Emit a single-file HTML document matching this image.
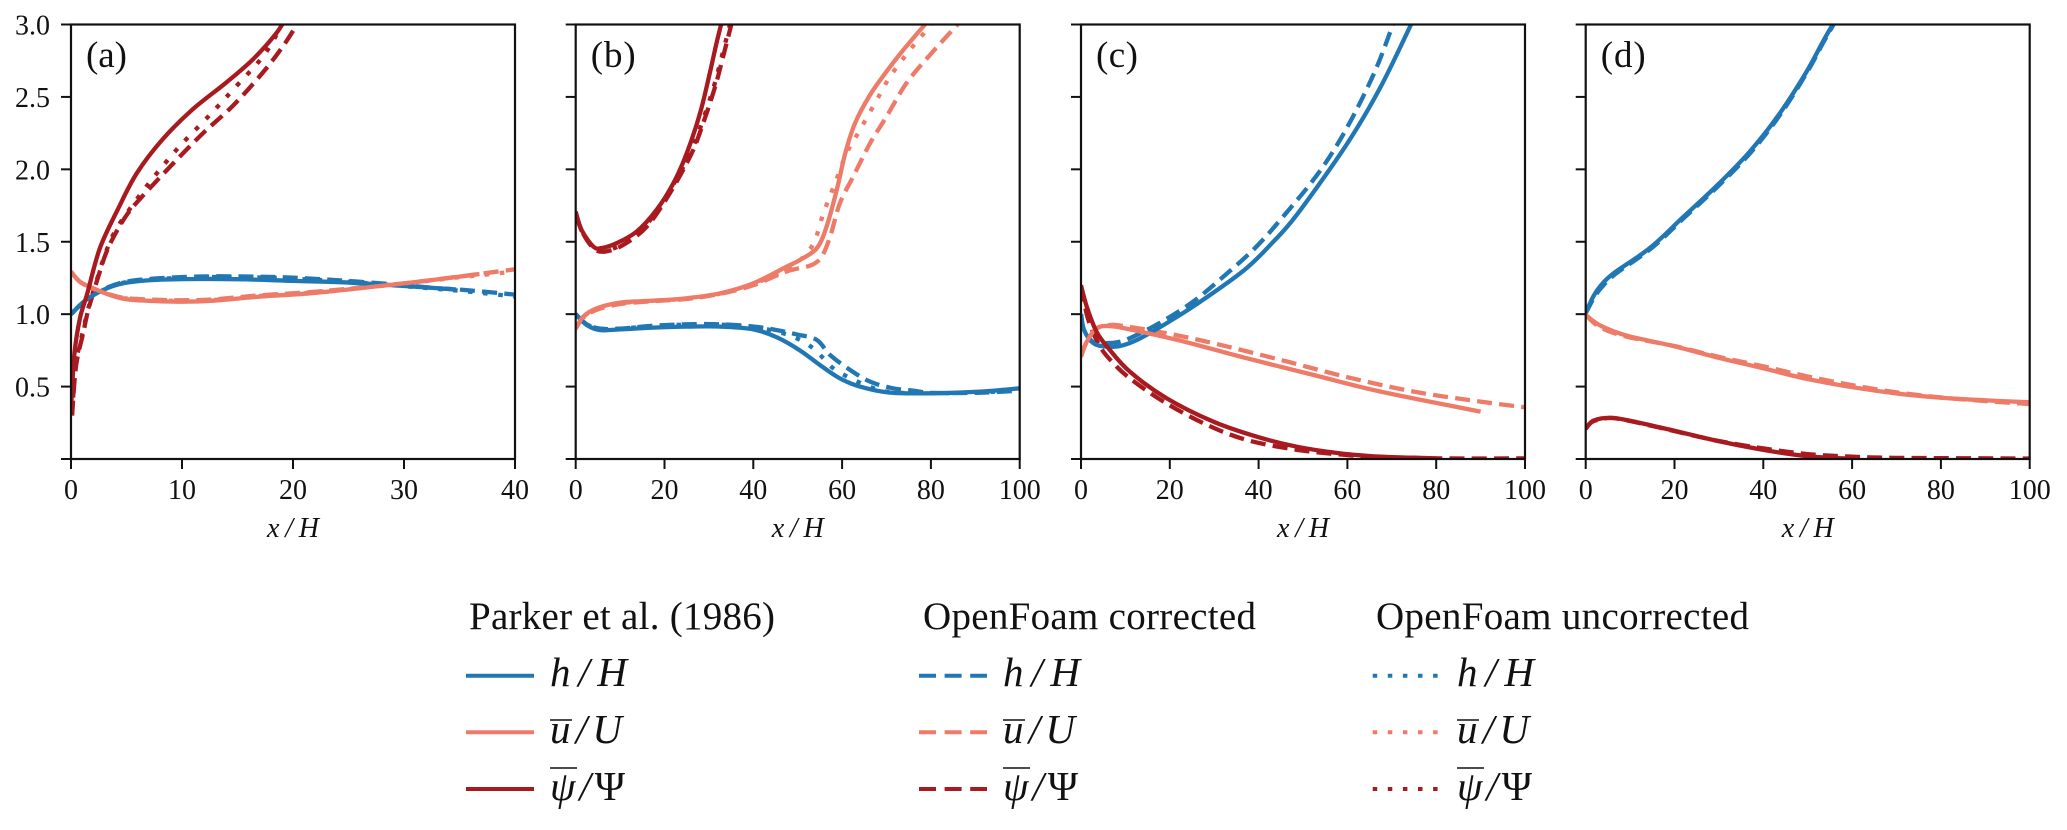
<!DOCTYPE html>
<html lang="en">
<head>
<meta charset="utf-8">
<title>Parker et al. (1986) vs OpenFoam profiles</title>
<style>
html,body{margin:0;padding:0;background:#fff;width:2067px;height:830px;overflow:hidden}
svg{display:block;font-family:"Liberation Serif",serif;fill:#111}
.lt{font-size:39px}
.lm{font-size:41px;font-style:italic}
.up{font-style:normal}
</style>
</head>
<body>
<svg id="chart" width="2067" height="830" viewBox="0 0 2067 830" xmlns="http://www.w3.org/2000/svg">
  <rect x="0" y="0" width="2067" height="830" fill="#fff"/>
  <g id="panels"></g>
  <g id="legend">
    <text class="lt" x="469" y="629" textLength="306" lengthAdjust="spacing">Parker et al. (1986)</text>
    <text class="lt" x="923" y="629" textLength="333" lengthAdjust="spacing">OpenFoam corrected</text>
    <text class="lt" x="1376" y="629" textLength="373" lengthAdjust="spacing">OpenFoam uncorrected</text>

    <line x1="466" x2="534" y1="675.7" y2="675.7" stroke="#2077b4" stroke-width="4"/>
    <line x1="466" x2="534" y1="732.3" y2="732.3" stroke="#ee7a68" stroke-width="4"/>
    <line x1="466" x2="534" y1="789" y2="789" stroke="#a81a1f" stroke-width="4"/>
    <line x1="919" x2="987" y1="675.7" y2="675.7" stroke="#2077b4" stroke-width="4" stroke-dasharray="17 8.6"/>
    <line x1="919" x2="987" y1="732.3" y2="732.3" stroke="#ee7a68" stroke-width="4" stroke-dasharray="17 8.6"/>
    <line x1="919" x2="987" y1="789" y2="789" stroke="#a81a1f" stroke-width="4" stroke-dasharray="17 8.6"/>
    <line x1="1372.7" x2="1440" y1="675.7" y2="675.7" stroke="#2077b4" stroke-width="4" stroke-dasharray="4.5 10.6"/>
    <line x1="1372.7" x2="1440" y1="732.3" y2="732.3" stroke="#ee7a68" stroke-width="4" stroke-dasharray="4.5 10.6"/>
    <line x1="1372.7" x2="1440" y1="789" y2="789" stroke="#a81a1f" stroke-width="4" stroke-dasharray="4.5 10.6"/>

    <text class="lm" x="550" y="686" textLength="77" lengthAdjust="spacing">h/H</text>
    <text class="lm" x="550" y="743" textLength="72" lengthAdjust="spacing">u/U</text>
    <text class="lm" x="550" y="800" textLength="75" lengthAdjust="spacing">ψ/<tspan class="up">Ψ</tspan></text>
    <line x1="550" x2="572" y1="720" y2="720" stroke="#111" stroke-width="1.6"/>
    <line x1="550" x2="577" y1="768" y2="768" stroke="#111" stroke-width="1.6"/>

    <text class="lm" x="1003" y="686" textLength="77" lengthAdjust="spacing">h/H</text>
    <text class="lm" x="1003" y="743" textLength="72" lengthAdjust="spacing">u/U</text>
    <text class="lm" x="1003" y="800" textLength="75" lengthAdjust="spacing">ψ/<tspan class="up">Ψ</tspan></text>
    <line x1="1003" x2="1025" y1="720" y2="720" stroke="#111" stroke-width="1.6"/>
    <line x1="1003" x2="1030" y1="768" y2="768" stroke="#111" stroke-width="1.6"/>

    <text class="lm" x="1457" y="686" textLength="77" lengthAdjust="spacing">h/H</text>
    <text class="lm" x="1457" y="743" textLength="72" lengthAdjust="spacing">u/U</text>
    <text class="lm" x="1457" y="800" textLength="75" lengthAdjust="spacing">ψ/<tspan class="up">Ψ</tspan></text>
    <line x1="1457" x2="1479" y1="720" y2="720" stroke="#111" stroke-width="1.6"/>
    <line x1="1457" x2="1484" y1="768" y2="768" stroke="#111" stroke-width="1.6"/>
  </g>
</svg>
<script>
// Axis ticks
const yTicks = [0, 0.5, 1, 1.5, 2, 2.5, 3];
const yTickLabels = ["", "0.5", "1.0", "1.5", "2.0", "2.5", "3.0"];
const xTicksA = [0, 10, 20, 30, 40];
const xTicksOther = [0, 20, 40, 60, 80, 100];

// Panel (a): [x/H, value]
const aHParker = [[0,1.0],[1.26,1.093],[2.9,1.167],[4.7,1.213],[7.4,1.236],[11.6,1.243],[15.8,1.24],[20,1.23],[24.5,1.22],[29,1.2],[32.9,1.18],[34.7,1.17]];
const aHCorrected = [[0,1.0],[1.26,1.09],[2.9,1.17],[4.7,1.22],[7.4,1.245],[11.6,1.26],[15.8,1.26],[20,1.252],[24.5,1.232],[29,1.206],[32.9,1.18],[35.5,1.167],[40,1.135]];
const aHUncorrected = [[0,1.0],[1.26,1.09],[2.9,1.17],[4.7,1.217],[7.4,1.24],[11.6,1.255],[15.8,1.255],[20,1.245],[24.5,1.226],[29,1.2],[32.9,1.175],[35.5,1.158],[40,1.122]];
const aUParker = [[0,1.293],[0.8,1.224],[2,1.179],[3.5,1.133],[5,1.103],[7.4,1.091],[9.8,1.086],[12.8,1.093],[17,1.121],[21.5,1.144],[26,1.179],[30.5,1.217],[35,1.259],[36.8,1.277]];
const aUCorrected = [[0,1.293],[0.8,1.224],[2,1.175],[3.5,1.135],[5,1.11],[7.4,1.1],[9.8,1.096],[12.8,1.102],[17,1.13],[21.5,1.152],[26,1.183],[30.5,1.217],[35,1.26],[37,1.28],[40,1.31]];
const aUUncorrected = [[0,1.293],[0.8,1.224],[2,1.175],[3.5,1.135],[5,1.108],[7.4,1.096],[9.8,1.092],[12.8,1.098],[17,1.126],[21.5,1.148],[26,1.18],[30.5,1.215],[35,1.255],[37,1.27],[40,1.295]];
const aPsiParker = [[0,0.34],[0.3,0.72],[0.8,0.97],[1.47,1.144],[2.6,1.455],[4.26,1.73],[5.9,1.97],[8.17,2.2],[10.9,2.41],[14,2.6],[16.4,2.76],[18.5,2.94],[19.4,3.05]];
const aPsiCorrected = [[0.1,0.3],[0.45,0.64],[1.1,0.87],[1.56,1.03],[2.46,1.26],[3.2,1.43],[4.1,1.57],[5.16,1.7],[6.5,1.82],[9.2,2.04],[11.9,2.25],[14.6,2.44],[17.3,2.67],[19.1,2.85],[20.6,3.03]];
const aPsiUncorrected = [[0.1,0.32],[0.45,0.66],[1.1,0.89],[1.56,1.04],[2.46,1.27],[3.2,1.44],[4.1,1.59],[5.9,1.79],[7.7,1.97],[9.8,2.16],[12.5,2.375],[14.6,2.55],[17.3,2.78],[18.8,2.97],[19.1,3.03]];

// Panel (b)
const bHParker = [[0,1.0],[2.5,0.925],[5.5,0.89],[10,0.895],[17.5,0.907],[25,0.914],[32.5,0.914],[40,0.895],[45.3,0.84],[50.5,0.75],[55,0.649],[59.5,0.557],[64,0.5],[70.8,0.458],[80.5,0.454],[91,0.465],[100,0.488]];
const bHCorrected = [[0,1.0],[2.5,0.93],[5.5,0.9],[10,0.9],[17.5,0.92],[25,0.93],[32.5,0.93],[40,0.915],[45.3,0.89],[49.8,0.86],[54.3,0.822],[57.3,0.718],[61.8,0.615],[66.3,0.534],[71.5,0.488],[76,0.472],[80.5,0.456],[91,0.458],[100,0.472]];
const bHUncorrected = [[0,1.0],[2.5,0.93],[5.5,0.9],[10,0.9],[17.5,0.918],[25,0.928],[32.5,0.928],[40,0.91],[45.3,0.88],[50,0.83],[53.5,0.764],[55.8,0.695],[58,0.626],[61.8,0.559],[67,0.49],[71.5,0.46],[80.5,0.454],[91,0.46],[100,0.476]];
const bUParker = [[0,0.9],[1.7,0.983],[4.7,1.04],[10,1.08],[17.5,1.093],[25,1.11],[32.5,1.144],[40,1.213],[47.5,1.328],[50.5,1.374],[54.3,1.455],[56.5,1.604],[58.8,1.858],[60.7,2.11],[62.9,2.318],[66.3,2.514],[70,2.675],[73.8,2.825],[79.5,3.03]];
const bUCorrected = [[0,0.9],[1.7,0.975],[4.7,1.03],[10,1.07],[17.5,1.09],[25,1.105],[32.5,1.14],[40,1.2],[47,1.29],[50,1.315],[53.2,1.34],[55.4,1.397],[57.3,1.535],[59.5,1.766],[62.5,1.95],[66.3,2.18],[70,2.364],[74.5,2.595],[79.8,2.79],[86,3.0]];
const bUUncorrected = [[0,0.9],[1.7,0.98],[4.7,1.035],[10,1.075],[17.5,1.092],[25,1.108],[32.5,1.142],[40,1.21],[47,1.3],[50,1.36],[52,1.42],[53.9,1.51],[55.8,1.697],[58.4,1.904],[61,2.11],[63.6,2.25],[67.4,2.456],[70.8,2.64],[75.3,2.825],[79,2.96],[80.5,3.02]];
const bPsiParker = [[0,1.708],[1.35,1.58],[4,1.466],[5.85,1.457],[9.2,1.49],[13.7,1.57],[18.2,1.72],[22,1.904],[25,2.11],[28,2.387],[30.2,2.664],[31.7,2.87],[33,3.03]];
const bPsiCorrected = [[0,1.7],[1.35,1.575],[4,1.455],[6.6,1.432],[10.7,1.478],[16,1.604],[21.2,1.835],[26.1,2.11],[28.7,2.318],[31.4,2.57],[33.2,2.778],[35.3,3.03]];
const bPsiUncorrected = [[0,1.7],[1.35,1.575],[4,1.46],[6.3,1.437],[10.4,1.482],[15.7,1.61],[20.9,1.84],[25.8,2.11],[28.4,2.318],[31.1,2.57],[32.9,2.778],[35,3.03]];

// Panel (c)
const cHParker = [[0,1.0],[0.7,0.89],[2.8,0.799],[5.8,0.776],[8.8,0.78],[12.6,0.822],[18.6,0.925],[26.1,1.07],[36.6,1.3],[43,1.49],[48.7,1.69],[60,2.18],[67.5,2.57],[74.8,3.03]];
const cHCorrected = [[0,1.0],[0.7,0.89],[2.8,0.805],[4.5,0.8],[8.8,0.81],[13.3,0.868],[18.6,0.955],[25.4,1.09],[32.1,1.26],[39.3,1.46],[45.7,1.68],[52.4,1.93],[57.3,2.15],[62.2,2.42],[66.8,2.72],[70.6,3.03]];
const cUParker = [[0,0.707],[1.3,0.81],[3.5,0.903],[6.5,0.918],[11,0.895],[22.4,0.817],[37.4,0.695],[52.4,0.58],[67.5,0.465],[90,0.327]];
const cUCorrected = [[0,0.707],[1.3,0.81],[3.5,0.9],[6.5,0.925],[9.6,0.918],[18.6,0.872],[29.9,0.799],[45,0.684],[60,0.565],[75,0.465],[90,0.396],[100,0.357]];
const cPsiParker = [[0,1.2],[1.3,1.052],[3.5,0.879],[6.2,0.764],[11,0.603],[19.3,0.419],[29.8,0.258],[39.6,0.154],[48.6,0.085],[58.4,0.039],[67.5,0.016],[75,0.009],[80,0.004]];
const cPsiCorrected = [[0,1.19],[1.65,0.96],[4.3,0.776],[7.3,0.661],[11,0.557],[18.6,0.396],[28.4,0.235],[37.4,0.131],[47.9,0.067],[57,0.035],[67.5,0.012],[82,0.004],[100,0.004]];

// Panel (d)
const dHParker = [[0,1.006],[1.5,1.11],[3.2,1.19],[6.2,1.28],[14.5,1.458],[22,1.672],[29.5,1.886],[37,2.124],[43.7,2.386],[49.7,2.672],[53.5,2.886],[56.2,3.03]];
const dHCorrected = [[0,1.006],[1.8,1.11],[3.6,1.185],[6.6,1.275],[14.9,1.458],[22.4,1.672],[29.9,1.886],[37.4,2.124],[44,2.386],[49.9,2.672],[53.7,2.886],[56.4,3.03]];
const dUParker = [[0,0.995],[3.2,0.923],[9.2,0.852],[19.7,0.78],[30.2,0.697],[40,0.626],[49.7,0.554],[60.2,0.495],[70.7,0.45],[80.5,0.422],[90.2,0.405],[100,0.392]];
const dUCorrected = [[0,0.995],[3.2,0.91],[9.2,0.845],[20,0.78],[30,0.705],[40,0.64],[50,0.57],[60,0.51],[70,0.46],[80,0.425],[90,0.4],[100,0.38]];
const dPsiParker = [[0,0.209],[1.7,0.264],[5.5,0.285],[10,0.264],[19.7,0.197],[29.5,0.126],[39.2,0.067],[46.7,0.031],[52,0.014],[60,0.002]];
const dPsiCorrected = [[0,0.209],[1.7,0.26],[5.5,0.283],[10,0.262],[19.7,0.195],[29.5,0.127],[40,0.073],[50,0.034],[60,0.016],[70,0.008],[100,0.003]];

const COLORS = {h: "#2077b4", u: "#ee7a68", psi: "#a81a1f"};
const DASH = {parker: "", corrected: "15 7.2", uncorrected: "4.5 10.6"};
const WIDTH = 4.3;

const PANELS = [
  {id: "a", left: 71, xMax: 40, xTicks: xTicksA, yLabels: true, labelW: 41,
   series: [["uncorrected","h",aHUncorrected],["uncorrected","u",aUUncorrected],["uncorrected","psi",aPsiUncorrected],
            ["corrected","h",aHCorrected],["corrected","u",aUCorrected],["corrected","psi",aPsiCorrected],
            ["parker","h",aHParker],["parker","u",aUParker],["parker","psi",aPsiParker]]},
  {id: "b", left: 575.7, xMax: 100, xTicks: xTicksOther, yLabels: false, labelW: 45,
   series: [["uncorrected","h",bHUncorrected],["uncorrected","u",bUUncorrected],["uncorrected","psi",bPsiUncorrected],
            ["corrected","h",bHCorrected],["corrected","u",bUCorrected],["corrected","psi",bPsiCorrected],
            ["parker","h",bHParker],["parker","u",bUParker],["parker","psi",bPsiParker]]},
  {id: "c", left: 1081, xMax: 100, xTicks: xTicksOther, yLabels: false, labelW: 42,
   series: [["corrected","h",cHCorrected],["corrected","u",cUCorrected],["corrected","psi",cPsiCorrected],
            ["parker","h",cHParker],["parker","u",cUParker],["parker","psi",cPsiParker]]},
  {id: "d", left: 1585.7, xMax: 100, xTicks: xTicksOther, yLabels: false, labelW: 45,
   series: [["corrected","h",dHCorrected],["corrected","u",dUCorrected],["corrected","psi",dPsiCorrected],
            ["parker","h",dHParker],["parker","u",dUParker],["parker","psi",dPsiParker]]}
];

const NS = "http://www.w3.org/2000/svg";
const TOP = 24.5, BOTTOM = 459, PW = 444, YMAX = 3;

function make(tag, attrs, parent) {
  const el = document.createElementNS(NS, tag);
  for (const k in attrs) el.setAttribute(k, attrs[k]);
  parent.appendChild(el);
  return el;
}
function smoothPath(pts) {
  let d = "M" + pts[0][0].toFixed(2) + " " + pts[0][1].toFixed(2);
  for (let i = 0; i < pts.length - 1; i++) {
    const p0 = pts[Math.max(i - 1, 0)], p1 = pts[i], p2 = pts[i + 1], p3 = pts[Math.min(i + 2, pts.length - 1)];
    const c1x = p1[0] + (p2[0] - p0[0]) / 6, c1y = p1[1] + (p2[1] - p0[1]) / 6;
    const c2x = p2[0] - (p3[0] - p1[0]) / 6, c2y = p2[1] - (p3[1] - p1[1]) / 6;
    d += "C" + c1x.toFixed(2) + " " + c1y.toFixed(2) + " " + c2x.toFixed(2) + " " + c2y.toFixed(2) + " " + p2[0].toFixed(2) + " " + p2[1].toFixed(2);
  }
  return d;
}

const root = document.getElementById("panels");
PANELS.forEach(function (p) {
  const xScale = function (v) { return p.left + v / p.xMax * PW; };
  const yScale = function (v) { return BOTTOM - v / YMAX * (BOTTOM - TOP); };

  const g = make("g", {}, root);
  
  

  const defs = make("defs", {}, g);
  const cp = make("clipPath", {id: "clip-" + p.id}, defs);
  make("rect", {x: p.left, y: TOP, width: PW, height: BOTTOM - TOP}, cp);

  const marks = make("g", {"clip-path": "url(#clip-" + p.id + ")"}, g);
  
  
  p.series.forEach(function (s) {
    const pts = s[2].map(function (d) { return [xScale(d[0]), yScale(d[1])]; });
    const path = make("path", {d: smoothPath(pts), fill: "none", stroke: COLORS[s[1]], "stroke-width": WIDTH, "stroke-dasharray": DASH[s[0]] || "none"}, marks);
    
    
  });

  const frame = make("rect", {x: p.left, y: TOP, width: PW, height: BOTTOM - TOP, fill: "none", stroke: "#111", "stroke-width": 2.2}, g);
  
  

  yTicks.forEach(function (v, i) {
    const y = yScale(v);
    const t = make("line", {x1: p.left - 10, x2: p.left, y1: y, y2: y, stroke: "#111", "stroke-width": 2}, g);
    
    
    if (p.yLabels && yTickLabels[i]) {
      const l = make("text", {x: 50, y: y + 10, "text-anchor": "end", "font-size": 28}, g);
      
      
      l.textContent = yTickLabels[i];
    }
  });

  p.xTicks.forEach(function (v) {
    const x = xScale(v);
    const t = make("line", {x1: x, x2: x, y1: BOTTOM, y2: BOTTOM + 10, stroke: "#111", "stroke-width": 2}, g);
    
    
    const l = make("text", {x: x, y: 499, "text-anchor": "middle", "font-size": 28}, g);
    
    
    l.textContent = String(v);
  });

  const xt = make("text", {x: p.left + PW / 2 - 26, y: 537, "font-size": 28, "font-style": "italic", textLength: 52, lengthAdjust: "spacing"}, g);
  
  
  xt.textContent = "x/H";

  const lab = make("text", {x: p.left + 15, y: 67, "font-size": 37, textLength: p.labelW, lengthAdjust: "spacing"}, g);
  
  
  lab.textContent = "(" + p.id + ")";
});
</script>
</body>
</html>
